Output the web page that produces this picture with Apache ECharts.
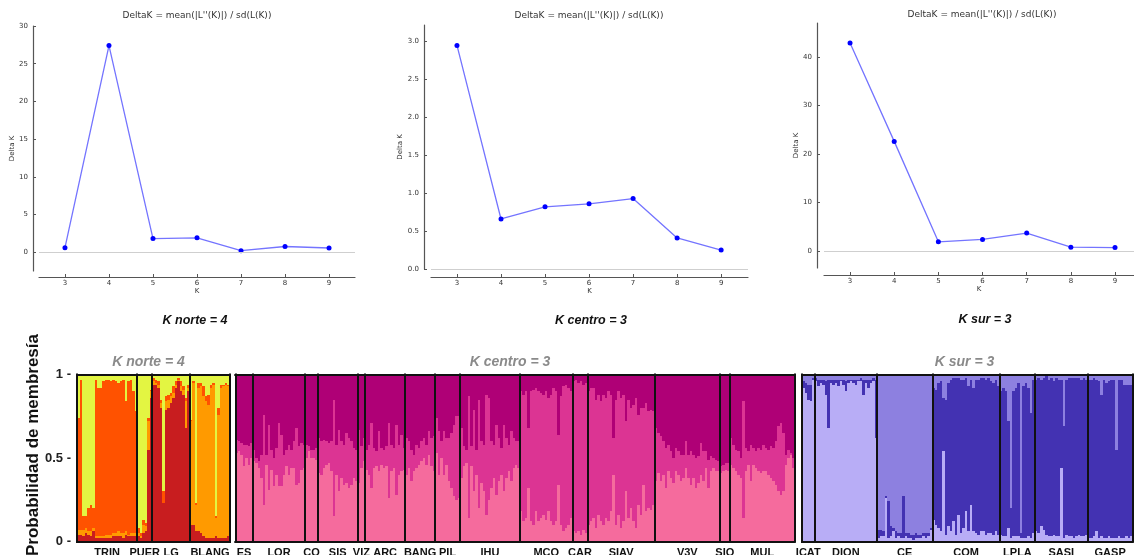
<!DOCTYPE html>
<html><head><meta charset="utf-8">
<script src="https://cdn.jsdelivr.net/npm/echarts@6/dist/echarts.min.js"></script>
<style>html,body{margin:0;padding:0;background:#fff}#c{width:1134px;height:555px}</style>
</head><body><div id="c"></div><script>
// ---------- Delta K (Evanno) ----------
const kValues = [3,4,5,6,7,8,9];
const deltaKNorte  = [0.6, 27.4, 1.8, 1.9, 0.2, 0.75, 0.55];
const deltaKCentro = [2.95, 0.66, 0.82, 0.86, 0.93, 0.41, 0.25];
const deltaKSur    = [42.9, 22.6, 1.9, 2.4, 3.7, 0.8, 0.7];
const ticksNorte  = [0,5,10,15,20,25,30];
const ticksCentro = [0,0.5,1,1.5,2,2.5,3];
const ticksSur    = [0,10,20,30,40];

// ---------- STRUCTURE membership, K norte = 4 ----------
const norteNames = ['TRIN','PUER','LG','BLANG'];
const norteSizes = [24,6,15,16];
const norteRed = [
 .04,.04,.03,.05,.04,.03,.06,.02,.02,.02,.02,.02,.02,.02,.03,.03,.03,.03,.02,.04,.03,.03,.03,.03,
 .03,.02,.05,.06,.55,.86,
 .94,.94,.92,.80,.23,.79,.80,.83,.86,.92,.96,.90,.88,.68,.90,
 .10,.10,.06,.06,.05,.03,.02,.02,.02,.02,.03,.02,.02,.02,.02,.03];
const norteAmber = [
 .03,.03,.04,.03,.02,.03,.02,.01,.01,.01,.01,.02,.02,.02,.02,.02,.03,.02,.03,.02,.01,.02,.02,.02,
 .02,.01,.05,.03,.17,.04,
 .02,.01,.02,.03,.00,.05,.05,.04,.03,.02,.01,.03,.03,.16,.02,
 .62,.85,.16,.86,.88,.84,.82,.80,.90,.92,.11,.74,.90,.91,.92,.90];
const norteOrange = [
 .67,.90,.08,.07,.14,.16,.12,.94,.89,.89,.93,.93,.93,.92,.92,.91,.89,.91,.92,.78,.92,.92,.85,.73,
 .03,.02,.03,.02,.02,.01,
 .02,.02,.02,.02,.07,.03,.03,.02,.04,.02,.01,.03,.02,.02,.02,
 .01,.01,.01,.03,.02,.06,.03,.06,.02,.01,.01,.04,.02,.01,.01,.01];

// ---------- K centro = 3 ----------
const centroNames = ['ES','LOR','CO','SIS','VIZ','ARC','BANG','PIL','IHU','MCO','CAR','SIAV','V3V','SIO','MUL'];
const centroSizes = [7,21,5,16,3,16,12,10,24,21,6,27,26,4,26];
const centroLight = [
 .53,.54,.52,.45,.50,.46,.50,
 .48,.47,.44,.38,.22,.46,.31,.43,.33,.40,.33,.33,.40,.45,.40,.44,.44,.34,.35,.43,.44,
 .50,.54,.50,.50,.49,
 .41,.40,.44,.46,.47,.42,.15,.40,.30,.38,.34,.35,.32,.34,.38,.36,
 .35,.44,.48,
 .43,.40,.32,.44,.45,.42,.46,.44,.45,.26,.42,.44,.28,.40,.42,.43,
 .40,.44,.36,.42,.44,.46,.48,.50,.46,.52,.45,.42,
 .53,.40,.50,.40,.46,.36,.32,.27,.25,.26,
 .38,.45,.47,.14,.45,.30,.40,.20,.35,.30,.16,.25,.32,.38,.28,.36,.40,.30,.38,.42,.36,.44,.46,.44,
 .18,.12,.14,.32,.12,.10,.18,.12,.14,.16,.13,.18,.12,.10,.12,.34,.10,.06,.08,.10,.14,
 .06,.05,.06,.04,.07,.05,
 .10,.12,.14,.08,.16,.12,.10,.14,.12,.18,.40,.10,.16,.08,.12,.30,.14,.20,.12,.08,.22,.16,.34,.18,.20,.19,.22,
 .36,.41,.36,.40,.32,.42,.38,.35,.42,.40,.36,.38,.44,.38,.34,.38,.32,.35,.40,.36,.44,.32,.42,.44,.42,.42,
 .41,.42,.43,.42,
 .46,.44,.42,.40,.38,.14,.42,.46,.36,.46,.44,.42,.41,.42,.42,.40,.38,.36,.34,.30,.28,.30,.46,.50,.52,.44];
const centroMid = [
 .08,.06,.07,.13,.08,.11,.09,
 .07,.03,.04,.14,.54,.06,.39,.12,.17,.16,.38,.31,.12,.10,.18,.11,.16,.34,.22,.16,.14,
 .08,.03,.05,.05,.07,
 .21,.20,.17,.14,.12,.18,.70,.18,.37,.22,.24,.30,.30,.26,.18,.19,
 .32,.13,.14,
 .12,.18,.39,.12,.09,.24,.10,.11,.12,.45,.16,.12,.42,.18,.22,.13,
 .22,.16,.19,.10,.14,.10,.12,.12,.12,.14,.17,.21,
 .21,.26,.10,.26,.16,.26,.33,.43,.50,.49,
 .30,.12,.08,.73,.12,.49,.15,.65,.25,.28,.72,.61,.28,.20,.42,.26,.16,.40,.24,.16,.30,.18,.14,.16,
 .72,.76,.76,.36,.78,.81,.74,.78,.75,.72,.77,.68,.76,.82,.78,.30,.77,.87,.86,.82,.76,
 .90,.92,.89,.92,.87,.90,
 .80,.80,.78,.77,.72,.72,.78,.72,.78,.70,.22,.75,.74,.78,.76,.42,.71,.60,.70,.78,.54,.64,.46,.65,.58,.60,.56,
 .32,.24,.27,.20,.24,.16,.16,.15,.14,.14,.16,.14,.16,.14,.20,.14,.18,.16,.19,.18,.10,.17,.09,.06,.07,.06,
 .04,.04,.04,.05,
 .16,.14,.13,.14,.12,.70,.14,.08,.22,.10,.10,.14,.14,.16,.14,.15,.19,.20,.26,.39,.43,.35,.06,.05,.01,.06];

// ---------- K sur = 3 ----------
const surNames = ['ICAT','DION','CE','COM','LPLA','SASI','GASP'];
const surSizes = [5,25,22,27,14,21,18];
const surLavender = [
 .92,.89,.85,.84,.97,
 .96,.93,.95,.94,.88,.68,.95,.94,.95,.93,.96,.94,.90,.95,.96,.95,.94,.96,.96,.88,.95,.92,.95,.96,.62,
 .02,.03,.03,.26,.02,.03,.06,.02,.03,.02,.02,.03,.02,.02,.01,.02,.02,.02,.03,.02,.03,.07,
 .13,.10,.08,.06,.54,.04,.09,.06,.12,.04,.16,.05,.08,.18,.06,.22,.06,.05,.04,.06,.06,.04,.05,.05,.04,.06,.04,
 .04,.03,.03,.08,.02,.03,.03,.03,.02,.02,.02,.03,.02,.05,
 .06,.05,.09,.07,.04,.03,.03,.04,.03,.03,.44,.02,.04,.03,.03,.02,.03,.04,.03,.03,.04,
 .02,.02,.03,.06,.02,.03,.02,.02,.03,.02,.02,.02,.03,.02,.02,.03,.02,.03];
const surDark = [
 .04,.06,.09,.10,.01,
 .02,.04,.02,.03,.08,.29,.02,.03,.02,.04,.01,.03,.06,.02,.01,.02,.03,.01,.02,.09,.02,.05,.02,.02,.35,
 .05,.04,.03,.01,.22,.06,.02,.04,.02,.03,.25,.02,.03,.02,.03,.03,.02,.02,.02,.03,.02,.01,
 .79,.81,.87,.90,.32,.81,.86,.91,.86,.94,.82,.92,.89,.80,.87,.75,.86,.92,.93,.92,.92,.93,.93,.91,.91,.91,.89,
 .86,.89,.87,.64,.18,.87,.89,.92,.03,.91,.93,.89,.75,.92,
 .91,.93,.88,.91,.95,.94,.95,.92,.95,.94,.53,.67,.93,.95,.95,.96,.95,.94,.94,.95,.93,
 .95,.95,.95,.91,.94,.85,.95,.93,.93,.95,.95,.53,.94,.95,.92,.91,.92,.91];

const membershipTicks = [0, 0.5, 1];

// ---------- build ----------
const colN = ['#C81D1F','#FF9A00','#FF5200','#E3F542'];
const colC = ['#F56B9D','#DC3493','#AF0076'];
const colS = ['#B8ADF6','#4332B2','#8D80E0'];

function rows(arrs){
  const n = arrs[0].length;
  const out = [];
  for (let i=0;i<n;i++){
    const r=[i]; let s=0;
    for (const a of arrs){ r.push(a[i]); s+=a[i]; }
    r.push(Math.max(0, 1-s));   // memberships sum to 1
    out.push(r);
  }
  return out;
}
function bounds(sizes){ const b=[0]; let c=0; for(const s of sizes){c+=s;b.push(c);} return b; }
function centers(sizes){ const b=bounds(sizes); return sizes.map((s,i)=>b[i]+s/2); }
function renderer(colors){
  return function(params, api){
    const i = api.value(0);
    const n = colors.length;
    const x0 = Math.round(api.coord([i, 0])[0]);
    const x1 = Math.round(api.coord([i+1, 0])[0]);
    const ch = []; let cum = 0;
    let yPrev = Math.round(api.coord([i, 0])[1]);
    for (let k=0;k<n;k++){
      cum += api.value(k+1);
      const yTop = Math.round(api.coord([i, k===n-1 ? 1 : cum])[1]);
      if (yPrev > yTop){
        ch.push({type:'rect', shape:{x:x0, y:yTop, width:x1-x0, height:yPrev-yTop}, style:{fill:colors[k]}});
      }
      yPrev = Math.min(yPrev, yTop);
    }
    return {type:'group', children:ch};
  };
}
const FONT_TXT = 'DejaVu Sans';
function topX(gi, min, max, off){
  return {type:'value', gridIndex:gi, min, max, offset:off,
    axisLine:{show:true, onZero:false, lineStyle:{color:'#555', width:1.2}},
    axisTick:{show:true, inside:true, length:3, customValues:kValues, lineStyle:{color:'#555'}},
    axisLabel:{customValues:kValues, fontSize:7, color:'#333', margin:3, fontFamily:FONT_TXT},
    splitLine:{show:false}, name:'K', nameLocation:'middle', nameGap:11,
    nameTextStyle:{fontSize:7, color:'#333', fontFamily:FONT_TXT}};
}
function topY(gi, min, max, off, ticks, gap, fmt){
  return {type:'value', gridIndex:gi, min, max, offset:off,
    axisLine:{show:true, onZero:false, lineStyle:{color:'#555', width:1.2}},
    axisTick:{show:true, inside:true, length:3, customValues:ticks, lineStyle:{color:'#555'}},
    axisLabel:{customValues:ticks, fontSize:7, color:'#333', margin:5, fontFamily:FONT_TXT, formatter:fmt},
    splitLine:{show:false}, name:'Delta K', nameLocation:'middle', nameRotate:90, nameGap:gap,
    nameTextStyle:{fontSize:7, color:'#333', fontFamily:FONT_TXT}};
}
function structX(gi, names, sizes){
  const cs = centers(sizes); const map = {};
  cs.forEach((c,i)=>{ map[c.toFixed(2)] = names[i]; });
  const N = sizes.reduce((a,b)=>a+b,0);
  return {type:'value', gridIndex:gi, min:0, max:N,
    axisLine:{show:false}, axisTick:{show:false}, splitLine:{show:false},
    axisLabel:{customValues:cs, hideOverlap:false, margin:6, fontSize:11, fontWeight:'bold', color:'#111',
      fontFamily:'Liberation Sans', formatter:v=>map[Number(v).toFixed(2)]||''}};
}
function structY(gi, show){
  return {type:'value', gridIndex:gi, min:0, max:1, show:true,
    axisLine:{show:false}, axisTick:{show:false}, splitLine:{show:false},
    axisLabel:{show:show, customValues:membershipTicks, margin:6, fontSize:13, fontWeight:'bold', color:'#222',
      fontFamily:'Liberation Sans', formatter:v=>v+' -'}};
}
function lineSeries(i, vals){
  return {type:'line', xAxisIndex:i, yAxisIndex:i, data:kValues.map((k,j)=>[k, vals[j]]),
    symbol:'circle', symbolSize:5, itemStyle:{color:'#0000ff'},
    lineStyle:{color:'#7474ff', width:1.3},
    markLine:{silent:true, symbol:['none','none'], label:{show:false}, animation:false,
      lineStyle:{color:'#cfcfcf', width:1, type:'solid'}, emphasis:{disabled:true}, data:[{yAxis:0}]}};
}
function structSeries(i, arrs, colors, sizes){
  const b = bounds(sizes);
  return {type:'custom', xAxisIndex:i, yAxisIndex:i, data:rows(arrs), renderItem:renderer(colors),
    encode:{x:0, y:1}, clip:false,
    markLine:{silent:true, symbol:['none','none'], label:{show:false}, animation:false, z:10,
      lineStyle:{color:'#111', width:2, type:'solid', cap:'square'}, emphasis:{disabled:true},
      data:b.map(v=>({xAxis:v})).concat([{yAxis:0},{yAxis:1}])}};
}
const g = (o)=>Object.assign({containLabel:false, outerBoundsMode:'none', show:false}, o);
const dkTitle = "DeltaK = mean(|L''(K)|) / sd(L(K))";
const txt = (x,y,text,font,fill,extra)=>Object.assign({type:'text', x, y, silent:true,
  style:{text, font, fill, align:'center', verticalAlign:'middle'}}, extra||{});

const option = {
  animation:false,
  backgroundColor:'#fff',
  grid:[
    g({left:39, top:26, width:316, height:245}),
    g({left:431, top:25, width:317, height:244}),
    g({left:824, top:23, width:310, height:245}),
    g({left:77, top:374.5, width:153, height:167}),
    g({left:235.3, top:374.5, width:559.4, height:167}),
    g({left:802, top:374.5, width:330.7, height:167})
  ],
  xAxis:[
    topX(0, 2.41, 9.59, 6), topX(1, 2.41, 9.61, 8), topX(2, 2.41, 9.43, 7),
    structX(3, norteNames, norteSizes), structX(4, centroNames, centroSizes), structX(5, surNames, surSizes)
  ],
  yAxis:[
    topY(0, -2.5, 30, 6, ticksNorte, 15),
    topY(1, 0, 3.22, 7, ticksCentro, 17, v=>Number(v).toFixed(1)),
    topY(2, -3.5, 47, 7, ticksSur, 14),
    structY(3, true), structY(4, false), structY(5, false)
  ],
  series:[
    lineSeries(0, deltaKNorte), lineSeries(1, deltaKCentro), lineSeries(2, deltaKSur),
    structSeries(3, [norteRed, norteAmber, norteOrange], colN, norteSizes),
    structSeries(4, [centroLight, centroMid], colC, centroSizes),
    structSeries(5, [surLavender, surDark], colS, surSizes)
  ],
  graphic:[
    txt(197, 16, dkTitle, '9px DejaVu Sans', '#333'),
    txt(589, 16, dkTitle, '9px DejaVu Sans', '#333'),
    txt(982, 15, dkTitle, '9px DejaVu Sans', '#333'),
    txt(195, 321, 'K norte = 4', 'italic bold 12.5px Liberation Sans', '#111'),
    txt(591, 321, 'K centro = 3', 'italic bold 12.5px Liberation Sans', '#111'),
    txt(985, 320, 'K sur = 3', 'italic bold 12.5px Liberation Sans', '#111'),
    txt(148.5, 362, 'K norte = 4', 'italic bold 14px Liberation Sans', '#8a8a8a'),
    txt(510, 362, 'K centro = 3', 'italic bold 14px Liberation Sans', '#8a8a8a'),
    txt(964.5, 362, 'K sur = 3', 'italic bold 14px Liberation Sans', '#8a8a8a'),
    txt(33, 445, 'Probabilidad de membresía', 'bold 17px Liberation Sans', '#111', {rotation:Math.PI/2})
  ]
};
const chk = [[norteRed,norteSizes],[norteAmber,norteSizes],[norteOrange,norteSizes],[centroLight,centroSizes],[centroMid,centroSizes],[surLavender,surSizes],[surDark,surSizes]];
const bad = chk.map(([a,s],i)=>a.length!==s.reduce((x,y)=>x+y,0)?('#'+i+':'+a.length+'/'+s.reduce((x,y)=>x+y,0)):'').filter(Boolean);
if (bad.length) option.graphic.push(txt(560, 300, 'LEN ' + bad.join(' '), '12px DejaVu Sans', '#f00'));
const chart = echarts.init(document.getElementById('c'));
chart.setOption(option);
</script></body></html>
